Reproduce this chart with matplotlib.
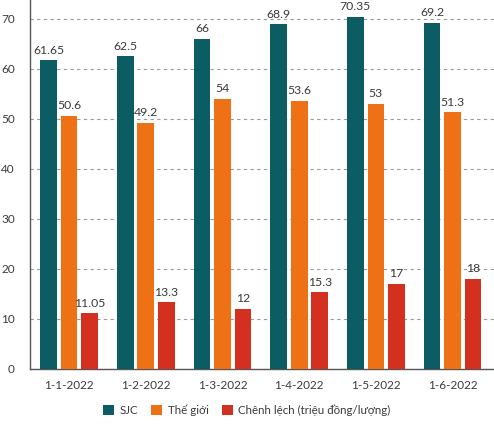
import numpy as np
import matplotlib
matplotlib.use("Agg")
import matplotlib.pyplot as plt
from matplotlib.patches import Patch

plt.rcParams['font.family'] = ['Lato', 'DejaVu Sans']

dates = ['1-1-2022', '1-2-2022', '1-3-2022', '1-4-2022', '1-5-2022', '1-6-2022']
sjc = [61.65, 62.5, 66, 68.9, 70.35, 69.2]
the_gioi = [50.6, 49.2, 54, 53.6, 53, 51.3]
chenh_lech = [11.05, 13.3, 12, 15.3, 17, 18]
labels_sjc = ['61.65', '62.5', '66', '68.9', '70.35', '69.2']
labels_tg = ['50.6', '49.2', '54', '53.6', '53', '51.3']
labels_cl = ['11.05', '13.3', '12', '15.3', '17', '18']

names = ['SJC', 'Thế giới', 'Chênh lệch (triệu đồng/lượng)']
colors = ['#0b5d63', '#ef7115', '#d4301f']

fig = plt.figure(figsize=(4.94, 4.25), dpi=100)
ax = fig.add_axes([30 / 494, (425 - 368.7) / 425, 464 / 494, 368.7 / 425])

x = np.arange(len(dates))
w = 0.217
off = 0.267
txt = '#3a3a3a'
fs = 8.8
for i, (vals, labs) in enumerate([(sjc, labels_sjc), (the_gioi, labels_tg), (chenh_lech, labels_cl)]):
    pos = x + (i - 1) * off
    ax.bar(pos, vals, width=w, color=colors[i], zorder=3)
    for p, v, l in zip(pos, vals, labs):
        ax.text(p, v + 0.9, l, ha='center', va='bottom', fontsize=fs, color=txt)

ax.set_xlim(-0.51, 5.54)
ax.set_ylim(0, 73.7)
ax.set_yticks(range(0, 71, 10))
ax.set_xticks(x)
ax.set_xticklabels(dates)
ax.tick_params(axis='both', length=0, labelsize=fs - 0.3, colors=txt)
ax.tick_params(axis='x', pad=8)
ax.tick_params(axis='y', pad=11)
ax.yaxis.grid(True, linestyle=(0, (3, 3)), color='#9a9a9a', linewidth=0.8, zorder=0)
for s in ['top', 'right']:
    ax.spines[s].set_visible(False)
for s in ['left', 'bottom']:
    ax.spines[s].set_color('#555555')
    ax.spines[s].set_linewidth(1)

handles = [Patch(facecolor=c) for c in colors]
fig.legend(handles, names, loc='center', bbox_to_anchor=(0.5, 14.5 / 425), ncol=3,
           frameon=False, fontsize=fs - 0.5, handlelength=0.95, handleheight=0.95,
           handletextpad=0.5, columnspacing=1.1, labelcolor=txt)

fig.savefig('out.png', dpi=100)
